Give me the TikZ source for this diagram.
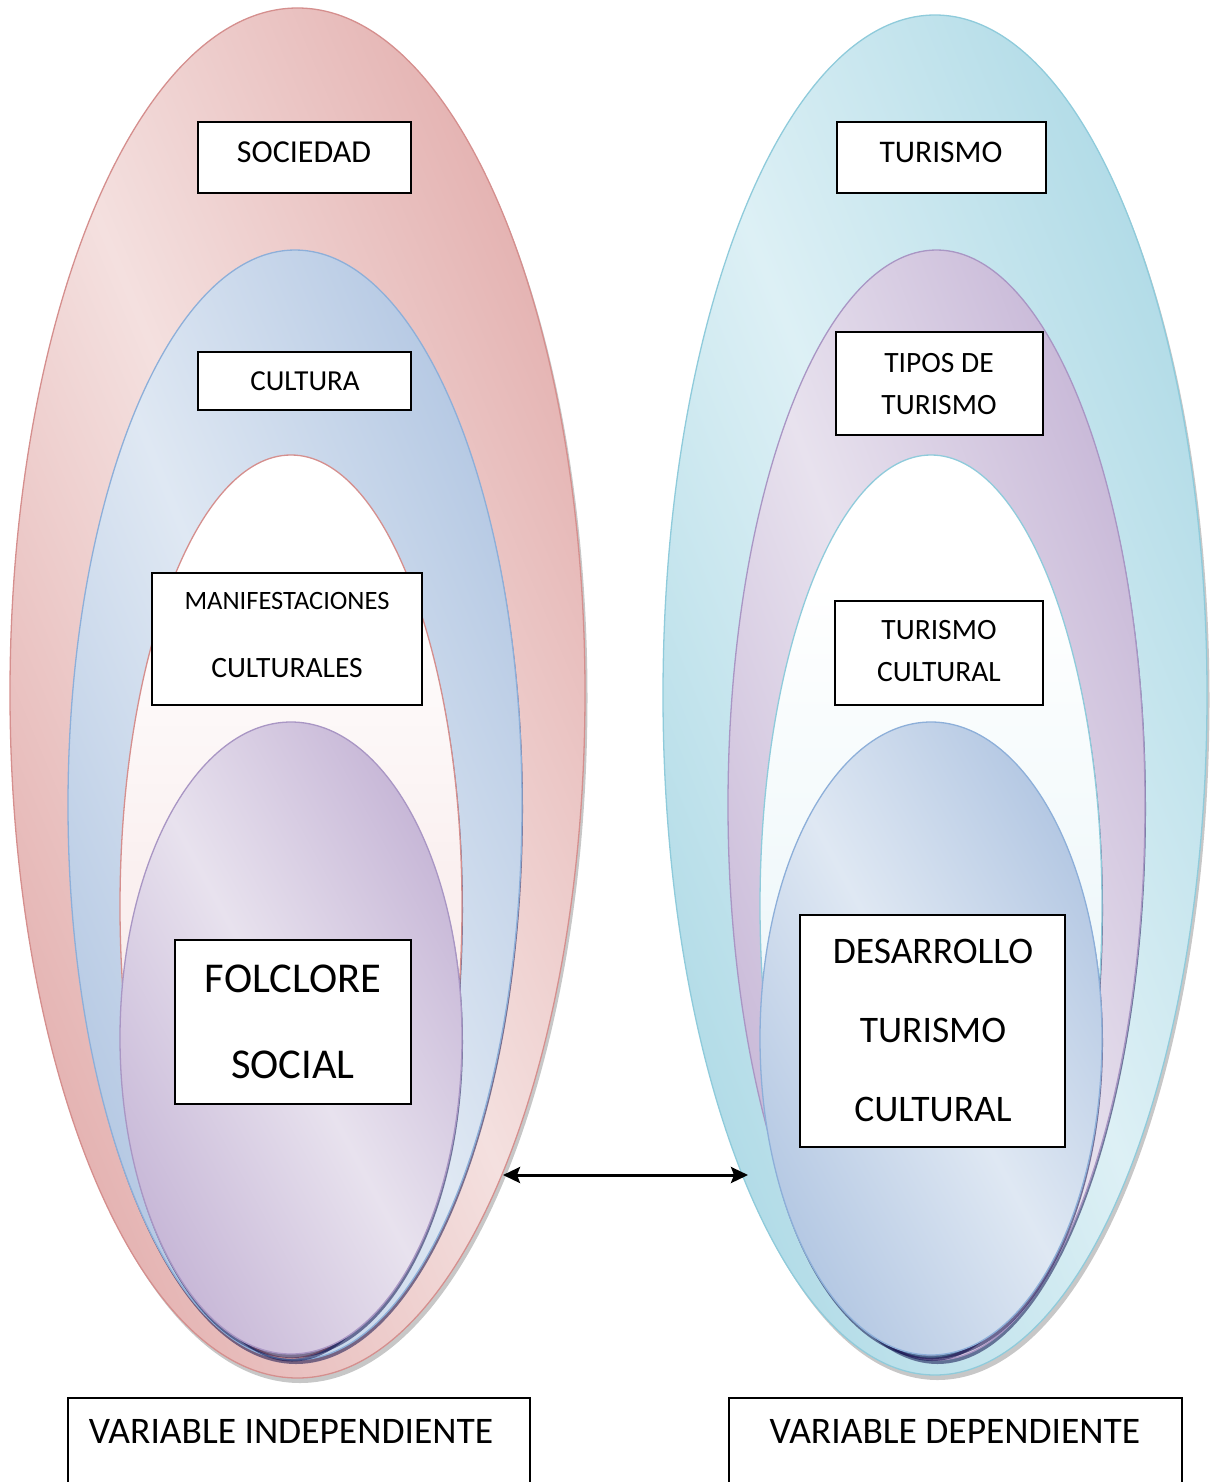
\documentclass[tikz,border=0pt]{standalone}
\usepackage{fontspec}
\setmainfont{Carlito}
\usetikzlibrary{arrows.meta}

% fill and line colours
\definecolor{pkL}{HTML}{F4E0DF}
\definecolor{pkD}{HTML}{DFA3A2}
\definecolor{pkS}{HTML}{D58F8E}
\definecolor{blL}{HTML}{DFE8F3}
\definecolor{blD}{HTML}{A7BEDE}
\definecolor{blS}{HTML}{8DAFD9}
\definecolor{puL}{HTML}{E8E2EE}
\definecolor{puD}{HTML}{BDAAD0}
\definecolor{puS}{HTML}{A996C4}
\definecolor{cyL}{HTML}{DDF0F5}
\definecolor{cyD}{HTML}{A2D4E2}
\definecolor{cyS}{HTML}{8FCBDB}
\definecolor{wpB}{HTML}{F5E3E3}
\definecolor{wpM}{HTML}{FAF0F0}
\definecolor{wcB}{HTML}{E0F0F5}
\definecolor{wcM}{HTML}{F2F9FB}

% dark-light-dark bands across the shape; the rim of each oval lies near 18bp / 82bp
\pgfdeclarehorizontalshading{pinkband}{100bp}{color(0bp)=(pkD); color(18bp)=(pkD); color(50bp)=(pkL); color(82bp)=(pkD); color(100bp)=(pkD)}
\pgfdeclarehorizontalshading{blueband}{100bp}{color(0bp)=(blD); color(18bp)=(blD); color(50bp)=(blL); color(82bp)=(blD); color(100bp)=(blD)}
\pgfdeclarehorizontalshading{purpleband}{100bp}{color(0bp)=(puD); color(18bp)=(puD); color(50bp)=(puL); color(82bp)=(puD); color(100bp)=(puD)}
\pgfdeclarehorizontalshading{cyanband}{100bp}{color(0bp)=(cyD); color(18bp)=(cyD); color(50bp)=(cyL); color(82bp)=(cyD); color(100bp)=(cyD)}
% pale fills: white on top, tinted below
\pgfdeclareverticalshading{palepink}{100bp}{color(0bp)=(wpB); color(25bp)=(wpB); color(52bp)=(wpM); color(68bp)=(white); color(100bp)=(white)}
\pgfdeclareverticalshading{palecyan}{100bp}{color(0bp)=(wcB); color(25bp)=(wcB); color(52bp)=(wcM); color(68bp)=(white); color(100bp)=(white)}

\tikzset{
  oval/.style 2 args={shade, shading=#1, shading angle=#2, line width=1.3pt},
  paleoval/.style={shade, shading=#1, line width=1.3pt},
  outershadow/.style={fill=black, opacity=0.22},
  innershadow/.style={fill=black!75!blue, opacity=0.5},
  labelbox/.style={draw=black, line width=1.4pt, fill=white, inner sep=0pt},
  txt/.style={anchor=base, inner sep=0pt, font=\fontsize{#1}{#1}\selectfont},
  twoway/.style={line width=3pt, {Stealth[length=17pt,width=16pt,inset=3pt]}-{Stealth[length=17pt,width=16pt,inset=3pt]}}
}

\begin{document}
\begin{tikzpicture}[x=1pt, y=-1pt]
\useasboundingbox (0,0) rectangle (1215,1482);

% ---------- left group ----------
\fill[outershadow] (300,698) ellipse [x radius=287.5, y radius=685];
\path[oval={pinkband}{22.8}, draw=pkS] (297.5,693) ellipse [x radius=287.5, y radius=685];

\fill[innershadow] (296,809) ellipse [x radius=227, y radius=555];
\path[oval={blueband}{22.2}, draw=blS] (295,805) ellipse [x radius=227, y radius=555];

\fill[innershadow] (292,910) ellipse [x radius=171, y radius=451.5];
\path[paleoval=palepink, draw=pkS] (291,906.5) ellipse [x radius=171, y radius=451.5];

\fill[innershadow] (292,1042) ellipse [x radius=171, y radius=316];
\path[oval={purpleband}{28.4}, draw=puS] (291,1038) ellipse [x radius=171, y radius=316];

% ---------- right group ----------
\fill[outershadow] (937.5,700) ellipse [x radius=272, y radius=680];
\path[oval={cyanband}{21.8}, draw=cyS] (935,695) ellipse [x radius=272, y radius=680];

\fill[innershadow] (937.5,809) ellipse [x radius=208.5, y radius=555];
\path[oval={purpleband}{20.6}, draw=puS] (936.5,805) ellipse [x radius=208.5, y radius=555];

\fill[innershadow] (932,910) ellipse [x radius=171, y radius=451];
\path[paleoval=palecyan, draw=cyS] (931,906) ellipse [x radius=171, y radius=451];

\fill[innershadow] (932,1042.5) ellipse [x radius=171, y radius=316.5];
\path[oval={blueband}{28.4}, draw=blS] (931,1038.5) ellipse [x radius=171, y radius=316.5];

% ---------- label boxes ----------
\node[labelbox, minimum width=213pt, minimum height=71pt] (bSoc) at (304.5,157.5) {};
\node[txt=32] (tSoc) at (304,163) {SOCIEDAD};

\node[labelbox, minimum width=213pt, minimum height=58pt] (bCul) at (304.5,381) {};
\node[txt=29] (tCul) at (305,390) {CULTURA};

\node[labelbox, minimum width=270pt, minimum height=132pt] (bMan) at (287,639) {};
\node[txt=26.5] (tMan1) at (287,609) {MANIFESTACIONES};
\node[txt=29.5] (tMan2) at (287,677) {CULTURALES};

\node[labelbox, minimum width=236pt, minimum height=164pt] (bFol) at (293,1022) {};
\node[txt=42.5] (tFol1) at (293,992) {FOLCLORE};
\node[txt=42.5] (tFol2) at (293,1078) {SOCIAL};

\node[labelbox, minimum width=209pt, minimum height=71pt] (bTur) at (941.5,157.5) {};
\node[txt=31.5] (tTur) at (941,163) {TURISMO};

\node[labelbox, minimum width=207pt, minimum height=103pt] (bTip) at (939.5,383.5) {};
\node[txt=29.5] (tTip1) at (939,372) {TIPOS DE};
\node[txt=29.5] (tTip2) at (939,414) {TURISMO};

\node[labelbox, minimum width=208pt, minimum height=104pt] (bTC) at (939,653) {};
\node[txt=29.5] (tTC1) at (939,639) {TURISMO};
\node[txt=29.5] (tTC2) at (939,681) {CULTURAL};

\node[labelbox, minimum width=265pt, minimum height=232pt] (bDes) at (932.5,1031) {};
\node[txt=37.5] (tDes1) at (933,963) {DESARROLLO};
\node[txt=37.5] (tDes2) at (933,1042) {TURISMO};
\node[txt=37.5] (tDes3) at (933,1121) {CULTURAL};

\node[labelbox, minimum width=462pt, minimum height=96pt] (bInd) at (299,1446) {};
\node[txt=37.5] (tInd) at (291,1443) {VARIABLE INDEPENDIENTE};

\node[labelbox, minimum width=453pt, minimum height=96pt] (bDep) at (955.5,1446) {};
\node[txt=37.5] (tDep) at (955,1443) {VARIABLE DEPENDIENTE};

% ---------- two-way link between the groups ----------
\coordinate (arrL) at (503,1175);
\coordinate (arrR) at (748,1175);
\draw[twoway] (arrL) -- (arrR);
\end{tikzpicture}
\end{document}
